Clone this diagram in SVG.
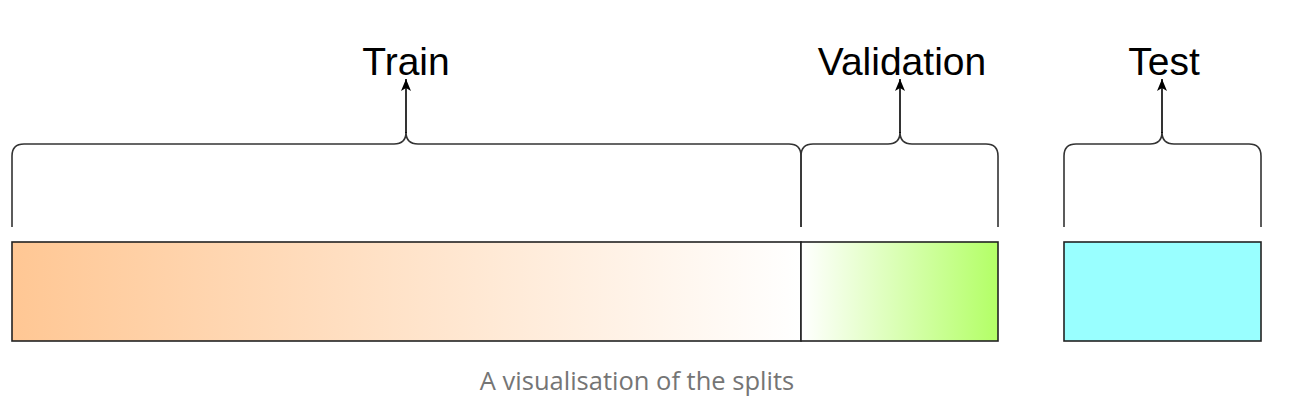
<svg xmlns="http://www.w3.org/2000/svg" width="1291" height="410" viewBox="0 0 1291 410">
<style>
.brace{fill:none;stroke:#333;stroke-width:1.6}
.arrow{fill:none;stroke:#000;stroke-width:1.6}
.lbl{font-family:"Liberation Sans",Arial,sans-serif;font-size:39px;fill:#000;text-anchor:middle}
.bar{stroke:#222;stroke-width:1.6}
.cap{font-family:"Open Sans","Noto Sans",sans-serif;font-size:25.5px;fill:#757575;text-anchor:middle}
</style>
<defs>
<linearGradient id="gTrain" x1="0" y1="0" x2="1" y2="0"><stop offset="0" stop-color="#FFC794"/><stop offset="1" stop-color="#FFFFFF"/></linearGradient>
<linearGradient id="gVal" x1="0" y1="0" x2="1" y2="0"><stop offset="0" stop-color="#FFFFFF"/><stop offset="1" stop-color="#B3FF66"/></linearGradient>
<marker id="ah" viewBox="0 0 14 14" refX="13" refY="7" markerWidth="14" markerHeight="14" markerUnits="userSpaceOnUse" orient="auto"><path d="M1,2 L13,7 L1,12 L4,7 Z" fill="#000"/></marker>
</defs>
<g id="connectors">
<path class="brace" d="M12,227 L12,156 Q12,144 24,144 L394,144 Q406,144 406,132 Q406,144 418,144 L789,144 Q801,144 801,156 L801,227"/>
<path class="brace" d="M801,227 L801,156 Q801,144 813,144 L888,144 Q900,144 900,132 Q900,144 912,144 L986,144 Q998,144 998,156 L998,227"/>
<path class="brace" d="M1064,227 L1064,156 Q1064,144 1076,144 L1150,144 Q1162,144 1162,132 Q1162,144 1174,144 L1249,144 Q1261,144 1261,156 L1261,227"/>
<path class="arrow" d="M406,133 L406,79" marker-end="url(#ah)"/>
<path class="arrow" d="M900,133 L900,79" marker-end="url(#ah)"/>
<path class="arrow" d="M1162,133 L1162,79" marker-end="url(#ah)"/>
</g>
<g id="train">
<rect class="bar" x="12" y="242" width="789" height="99" fill="url(#gTrain)"/>
<text class="lbl" x="406" y="75">Train</text>
</g>
<g id="validation">
<rect class="bar" x="801" y="242" width="197" height="99" fill="url(#gVal)"/>
<text class="lbl" x="902" y="75">Validation</text>
</g>
<g id="test">
<rect class="bar" x="1064" y="242" width="197" height="99" fill="#99FFFF"/>
<text class="lbl" x="1164" y="75">Test</text>
</g>
<text class="cap" x="637" y="390">A visualisation of the splits</text>
</svg>
